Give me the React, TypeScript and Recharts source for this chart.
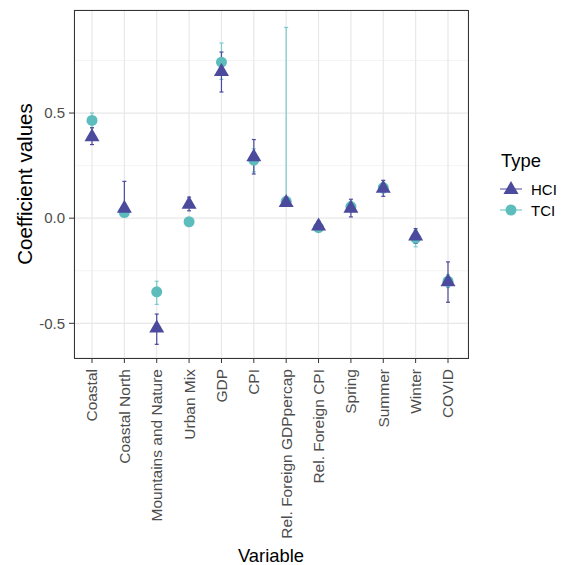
import React from 'react';
import {
  ComposedChart,
  Line,
  XAxis,
  YAxis,
  CartesianGrid,
  ErrorBar,
} from 'recharts';

// categories on the x axis
const variables = [
  'Coastal',
  'Coastal North',
  'Mountains and Nature',
  'Urban Mix',
  'GDP',
  'CPI',
  'Rel. Foreign GDPpercap',
  'Rel. Foreign CPI',
  'Spring',
  'Summer',
  'Winter',
  'COVID',
];

// HCI estimates and intervals
const hciValue = [0.39, 0.05, -0.52, 0.068, 0.7, 0.294, 0.077, -0.035, 0.05, 0.145, -0.083, -0.3];
const hciLow = [0.35, 0.02, -0.6, 0.035, 0.6, 0.21, 0.06, -0.055, 0.006, 0.104, -0.12, -0.4];
const hciHigh = [0.43, 0.175, -0.456, 0.1, 0.79, 0.374, 0.095, -0.015, 0.09, 0.18, -0.05, -0.208];

// TCI estimates and intervals
const tciValue = [0.465, 0.027, -0.35, -0.017, 0.742, 0.276, 0.08, -0.045, 0.055, 0.145, -0.095, -0.3];
const tciLow = [0.43, 0.01, -0.41, -0.035, 0.66, 0.22, 0.06, -0.06, 0.03, 0.12, -0.136, -0.33];
const tciHigh = [0.5, 0.045, -0.3, 0.0, 0.833, 0.33, 0.907, -0.03, 0.08, 0.17, -0.06, -0.27];

const yTicks = [-0.5, 0, 0.5];
const yMinorTicks = [-0.25, 0.25, 0.75];
const legendItems = ['HCI', 'TCI'];

const HCI_COLOR = '#4B4A9C';
const TCI_COLOR = '#5DBDBD';
const FONT = '"Liberation Sans", Arial, sans-serif';

const data = variables.map((v, i) => ({
  name: v,
  hci: hciValue[i],
  hciErr: [hciValue[i] - hciLow[i], hciHigh[i] - hciValue[i]],
  tci: tciValue[i],
  tciErr: [tciValue[i] - tciLow[i], tciHigh[i] - tciValue[i]],
}));

const Triangle = (props: any) => {
  const { cx, cy } = props;
  if (cx == null || cy == null) return null;
  return (
    <polygon
      points={`${cx},${cy - 8} ${cx - 7.5},${cy + 5} ${cx + 7.5},${cy + 5}`}
      fill={HCI_COLOR}
    />
  );
};

const Dot = (props: any) => {
  const { cx, cy } = props;
  if (cx == null || cy == null) return null;
  return <circle cx={cx} cy={cy} r={5.5} fill={TCI_COLOR} />;
};

const XTick = (props: any) => {
  const { x, y, payload } = props;
  return (
    <text
      x={x}
      y={y}
      transform={`rotate(-90, ${x}, ${y})`}
      textAnchor="end"
      dy="0.35em"
      fill="#4d4d4d"
      fontSize={15.5}
      fontFamily={FONT}
    >
      {payload.value}
    </text>
  );
};

// ggplot-style legend drawn beside the panel
const TypeLegend = () => (
  <svg
    width={90}
    height={90}
    style={{ position: 'absolute', left: 490, top: 140 }}
    fontFamily={FONT}
  >
    <text x={11} y={27} fontSize={18.4} fill="#000">Type</text>
    {legendItems.map((label, i) => {
      const cy = 49 + i * 21;
      const color = label === 'HCI' ? HCI_COLOR : TCI_COLOR;
      return (
        <g key={label}>
          <line x1={10} y1={cy} x2={32} y2={cy} stroke={color} strokeWidth={1} />
          {label === 'HCI' ? (
            <polygon points={`21,${cy - 8} 13.5,${cy + 5} 28.5,${cy + 5}`} fill={color} />
          ) : (
            <circle cx={21} cy={cy} r={5.5} fill={color} />
          )}
          <text x={41} y={cy + 6} fontSize={15} fill="#000">{label}</text>
        </g>
      );
    })}
  </svg>
);

export default function App() {
  return (
    <div style={{ position: 'absolute', left: 0, top: 0, width: 568, height: 565, background: 'white' }}>
      <ComposedChart
        width={568}
        height={565}
        data={data}
        margin={{ top: 10, right: 100, left: 0, bottom: 0 }}
      >
        <CartesianGrid yAxisId="minor" stroke="#ececec" strokeWidth={0.6} vertical={false} />
        <CartesianGrid stroke="#e8e8e8" strokeWidth={1.2} />
        <XAxis
          dataKey="name"
          type="category"
          interval={0}
          height={207}
          padding={{ left: 18, right: 20 }}
          tick={<XTick />}
          tickSize={5}
          tickMargin={6}
          axisLine={false}
          tickLine={{ stroke: '#333' }}
          label={{
            content: (p: any) => {
              const vb = p.viewBox;
              return (
                <text
                  x={vb.x + vb.width / 2}
                  y={562}
                  textAnchor="middle"
                  fontSize={18.4}
                  fontFamily={FONT}
                  fill="#000"
                >
                  Variable
                </text>
              );
            },
          }}
        />
        <YAxis
          type="number"
          domain={[-0.665, 0.99]}
          ticks={yTicks}
          width={74}
          allowDataOverflow
          tickFormatter={(v: number) => v.toFixed(1)}
          tick={{ fill: '#4d4d4d', fontSize: 15, fontFamily: FONT }}
          tickSize={5}
          tickMargin={4}
          axisLine={false}
          tickLine={{ stroke: '#333' }}
          label={{
            content: (p: any) => {
              const vb = p.viewBox;
              const cx = 32;
              const cy = vb.y + vb.height / 2;
              return (
                <text
                  x={cx}
                  y={cy}
                  transform={`rotate(-90, ${cx}, ${cy})`}
                  textAnchor="middle"
                  fontSize={20.5}
                  fontFamily={FONT}
                  fill="#000"
                >
                  Coefficient values
                </text>
              );
            },
          }}
        />
        <YAxis
          yAxisId="minor"
          type="number"
          domain={[-0.665, 0.99]}
          ticks={yMinorTicks}
          allowDataOverflow
          hide
        />
        <Line
          dataKey="tci"
          name="TCI"
          stroke="none"
          dot={<Dot />}
          activeDot={false}
          isAnimationActive={false}
        >
          <ErrorBar dataKey="tciErr" direction="y" width={2} stroke="#7ccaca" strokeWidth={1.2} />
        </Line>
        <Line
          dataKey="hci"
          name="HCI"
          stroke="none"
          dot={<Triangle />}
          activeDot={false}
          isAnimationActive={false}
        >
          <ErrorBar dataKey="hciErr" direction="y" width={2} stroke={HCI_COLOR} strokeWidth={1.2} />
        </Line>
      </ComposedChart>
      <div
        style={{
          position: 'absolute',
          left: 74,
          top: 10,
          width: 395,
          height: 349,
          border: '1px solid #333',
          boxSizing: 'border-box',
          pointerEvents: 'none',
        }}
      />
      <TypeLegend />
    </div>
  );
}
